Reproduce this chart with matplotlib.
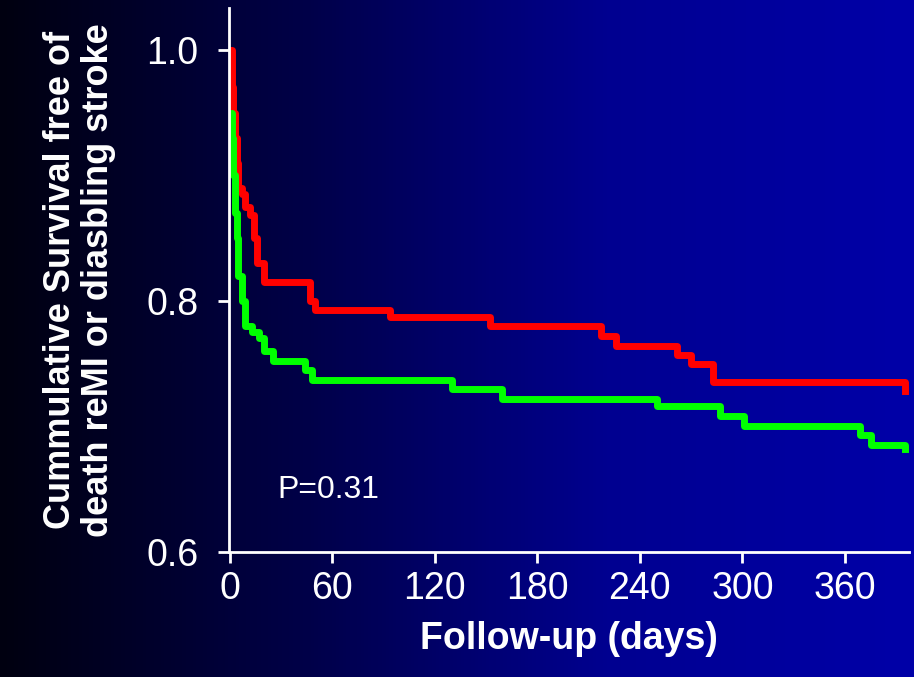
import numpy as np
import matplotlib
matplotlib.use("Agg")
import matplotlib.pyplot as plt

plt.rcParams["font.family"] = ["Liberation Sans", "DejaVu Sans"]

# Kaplan-Meier style step curves
red_days = [0, 1, 2, 3, 4, 5, 7, 9, 12, 14, 16, 20, 44, 47, 50, 94, 152, 217, 226, 262, 270, 283, 392, 395]
red_surv = [1.0, 0.97, 0.95, 0.93, 0.91, 0.89, 0.885, 0.875, 0.868, 0.85, 0.83, 0.815, 0.815, 0.80, 0.793,
            0.787, 0.780, 0.772, 0.764, 0.757, 0.750, 0.735, 0.735, 0.728]
green_days = [0, 1, 2, 3, 4, 5, 7, 9, 13, 17, 20, 25, 41, 44, 48, 130, 159, 250, 287, 301, 369, 375, 392, 395]
green_surv = [0.95, 0.93, 0.90, 0.87, 0.85, 0.82, 0.80, 0.78, 0.775, 0.77, 0.76, 0.752, 0.752, 0.745, 0.737,
              0.730, 0.722, 0.716, 0.708, 0.700, 0.693, 0.685, 0.685, 0.682]
x_ticks = [0, 60, 120, 180, 240, 300, 360]
y_ticks = [0.6, 0.8, 1.0]

fig = plt.figure(figsize=(9.14, 6.77), dpi=100)

# background gradient: near black on left to blue on right
bg = fig.add_axes([0, 0, 1, 1], zorder=-1)
grad = np.linspace(0, 1, 256).reshape(1, -1)
cmap = matplotlib.colors.LinearSegmentedColormap.from_list(
    "bg", ["#000010", "#000048", "#000090", "#0000a8"])
bg.imshow(grad, aspect="auto", cmap=cmap, extent=[0, 1, 0, 1])
bg.axis("off")

ax = fig.add_axes([229 / 914, 0.185, 680 / 914, 544 / 677])
ax.patch.set_alpha(0)
ax.step(red_days, red_surv, where="post", color="#ff0000", lw=5)
ax.step(green_days, green_surv, where="post", color="#00ff00", lw=5)

ax.set_xlim(-0.5, 397.5)
ax.set_ylim(0.6, 1.0335)
ax.set_xticks(x_ticks)
ax.set_yticks(y_ticks)
ax.set_yticklabels(["0.6", "0.8", "1.0"])
for s in ["top", "right"]:
    ax.spines[s].set_visible(False)
for s in ["left", "bottom"]:
    ax.spines[s].set_color("white")
    ax.spines[s].set_linewidth(2)
ax.tick_params(colors="white", labelsize=27, width=2, length=8, direction="out")
ax.tick_params(axis="x", pad=6)
ax.tick_params(axis="y", pad=14)

ax.text(28, 0.643, "P=0.31", color="white", fontsize=23)
ax.set_xlabel("Follow-up (days)", color="white", fontsize=27, fontweight="bold", labelpad=10)
ax.set_ylabel("Cummulative Survival free of\ndeath reMI or diasbling stroke",
              color="white", fontsize=26, fontweight="bold", labelpad=22, linespacing=1.1)

fig.savefig("out.png", dpi=100)
